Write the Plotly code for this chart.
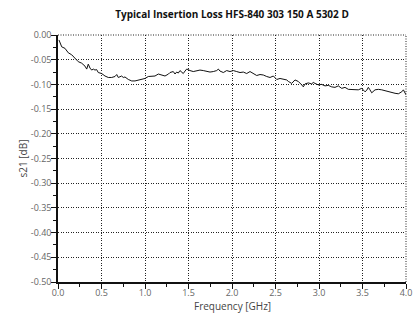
import plotly.graph_objects as go

freq = [0.011, 0.043, 0.08, 0.118, 0.157, 0.195, 0.233, 0.272, 0.31, 0.33, 0.348, 0.368, 0.387,
        0.406, 0.425, 0.444, 0.463, 0.502, 0.54, 0.578, 0.617, 0.655, 0.675, 0.693, 0.712, 0.732,
        0.75, 0.77, 0.808, 0.847, 0.885, 0.923, 0.962, 1.0, 1.038, 1.077, 1.115, 1.153, 1.19,
        1.23, 1.27, 1.287, 1.325, 1.345, 1.364, 1.383, 1.402, 1.422, 1.44, 1.46, 1.479, 1.498,
        1.517, 1.555, 1.594, 1.632, 1.67, 1.709, 1.747, 1.785, 1.824, 1.843, 1.862, 1.9, 1.939,
        1.977, 2.015, 2.054, 2.092, 2.13, 2.169, 2.207, 2.245, 2.284, 2.322, 2.36, 2.399, 2.437,
        2.475, 2.514, 2.552, 2.59, 2.629, 2.648, 2.686, 2.724, 2.762, 2.801, 2.82, 2.839, 2.877,
        2.916, 2.934, 2.954, 2.992, 3.031, 3.069, 3.107, 3.146, 3.184, 3.222, 3.261, 3.299,
        3.337, 3.376, 3.414, 3.452, 3.491, 3.529, 3.548, 3.567, 3.586, 3.606, 3.644, 3.682,
        3.721, 3.759, 3.797, 3.836, 3.874, 3.912, 3.951, 3.97, 3.99, 4.0]

s21 = [-0.010, -0.024, -0.027, -0.036, -0.040, -0.047, -0.054, -0.057, -0.063, -0.069, -0.059,
       -0.067, -0.071, -0.069, -0.071, -0.070, -0.076, -0.078, -0.083, -0.086, -0.086, -0.084,
       -0.080, -0.086, -0.085, -0.083, -0.086, -0.085, -0.090, -0.093, -0.093, -0.091, -0.090,
       -0.088, -0.084, -0.084, -0.083, -0.079, -0.081, -0.083, -0.079, -0.076, -0.074, -0.079,
       -0.075, -0.077, -0.072, -0.076, -0.078, -0.073, -0.069, -0.070, -0.072, -0.074, -0.072,
       -0.071, -0.072, -0.074, -0.075, -0.074, -0.072, -0.069, -0.073, -0.076, -0.072, -0.074,
       -0.072, -0.074, -0.076, -0.075, -0.078, -0.074, -0.078, -0.082, -0.080, -0.081, -0.084,
       -0.086, -0.083, -0.090, -0.088, -0.090, -0.091, -0.094, -0.098, -0.091, -0.094, -0.101,
       -0.105, -0.099, -0.097, -0.099, -0.096, -0.098, -0.101, -0.100, -0.103, -0.102, -0.105,
       -0.106, -0.103, -0.108, -0.106, -0.110, -0.110, -0.111, -0.111, -0.108, -0.115, -0.112,
       -0.106, -0.111, -0.117, -0.111, -0.110, -0.111, -0.113, -0.115, -0.117, -0.118, -0.119,
       -0.115, -0.111, -0.116, -0.121]

x_ticks = [0.0, 0.5, 1.0, 1.5, 2.0, 2.5, 3.0, 3.5, 4.0]
x_labels = ["0.0", "0.5", "1.0", "1.5", "2.0", "2.5", "3.0", "3.5", "4.0"]
y_ticks = [0.0, -0.05, -0.10, -0.15, -0.20, -0.25, -0.30, -0.35, -0.40, -0.45, -0.50]
y_labels = ["0.00", "-0.05", "-0.10", "-0.15", "-0.20", "-0.25", "-0.30", "-0.35", "-0.40", "-0.45", "-0.50"]

fig = go.Figure()
fig.add_trace(go.Scatter(x=freq, y=s21, mode="lines",
                         line=dict(color="#111111", width=1), showlegend=False))

font_family = "Open Sans, Noto Sans, sans-serif"
dotted = "1px,1.5px"
axis_common = dict(
    showgrid=True, gridcolor="#222222", gridwidth=1, griddash=dotted,
    showline=True, linecolor="#111111", linewidth=1.5,
    ticks="outside", ticklen=5, tickcolor="#111111", tickwidth=1,
    tickfont=dict(family=font_family, size=9, color="#666666"),
    zeroline=False, automargin=False, ticklabeloverflow="allow",
)

fig.update_xaxes(range=[0, 4], tickvals=x_ticks, ticktext=x_labels,
                 minor=dict(ticks="outside", ticklen=3, tickcolor="#111111", dtick=0.25, showgrid=False),
                 ticklabelstandoff=-4,
                 **axis_common)
fig.update_yaxes(range=[-0.5, 0], tickvals=y_ticks, ticktext=y_labels,
                 minor=dict(ticks="outside", ticklen=3, tickcolor="#111111", dtick=0.025, showgrid=False),
                 ticklabelstandoff=-2,
                 **axis_common)

# dotted frame on the top and right edges, like the reference's outer grid lines
fig.add_shape(type="line", xref="paper", yref="paper", x0=0, x1=1, y0=1, y1=1,
              line=dict(color="#222222", width=1, dash=dotted))
fig.add_shape(type="line", xref="paper", yref="paper", x0=1, x1=1, y0=0, y1=1,
              line=dict(color="#222222", width=1, dash=dotted))

W, H = 416, 317
title_font = dict(family=font_family, size=10, color="#444444")
fig.add_annotation(text="Frequency [GHz]", xref="paper", yref="paper", x=0.5, y=-24 / 247,
                   xanchor="center", yanchor="middle", showarrow=False, font=title_font)
fig.add_annotation(text="s21 [dB]", xref="paper", yref="paper", x=-36 / 348, y=0.5,
                   xanchor="center", yanchor="middle", textangle=-90, showarrow=False, font=title_font)

fig.update_layout(
    width=W, height=H,
    margin=dict(l=58, r=10, t=35, b=35),
    paper_bgcolor="white", plot_bgcolor="white",
    title=dict(text="<b>Typical Insertion Loss HFS-840 303 150 A 5302 D</b>",
               x=232 / W, xanchor="center", xref="container",
               y=1 - 14 / H, yanchor="middle", yref="container",
               font=dict(family=font_family, size=10, color="#111111"), automargin=False),
)

# remove the page's default body margin so the figure fills the window exactly
fig.write_html("out.html", config={"displayModeBar": False},
               post_script="document.body.style.margin='0px';")
